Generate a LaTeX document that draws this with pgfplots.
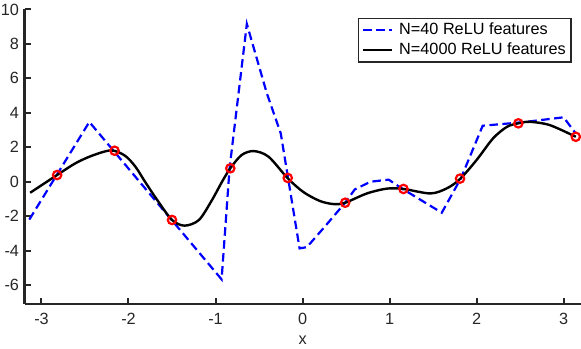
\documentclass[border=0pt]{standalone}
\usepackage{pgfplots}
\pgfplotsset{compat=1.18}
\usepackage{fontspec}
\setmainfont{Liberation Sans}
\definecolor{axgray}{RGB}{38,38,38}
\definecolor{mblue}{RGB}{0,0,255}

\begin{document}
\begin{tikzpicture}
\begin{axis}[
  scale only axis,
  width=556.5bp, height=294.5bp,
  xmin=-3.195, xmax=3.2, ymin=-7.1, ymax=10,
  axis x line*=bottom, axis y line*=left,
  axis line style={axgray, line width=2bp, -},
  xtick={-3,...,3}, ytick={-6,-4,...,10},
  tick align=inside, major tick length=6.5bp,
  tick style={axgray, line width=2bp},
  ticklabel style={font=\fontsize{16.3}{19}\selectfont, text=axgray},
  xticklabel style={yshift=-6bp},
  yticklabel style={xshift=-2bp},
  /pgf/number format/assume math mode=true,
  xlabel={x},
  xlabel style={font=\fontsize{16.3}{19}\selectfont, text=axgray,
    at={(axis description cs:0.5,0)}, anchor=center, yshift=-36.7bp},
  legend style={at={(axis description cs:0.984,0.972)}, anchor=north east,
    draw=axgray, line width=1.6bp, fill=white,
    font=\fontsize{16.3}{19}\selectfont, inner xsep=3.5bp, inner ysep=2bp,
    row sep=0.5bp, cells={anchor=west},
    nodes={inner sep=2bp, text height=12bp, text depth=3.5bp}},
  legend image code/.code={\draw[#1] (0bp,0bp) -- (29bp,0bp); \path (33bp,0bp);},
]
% N=40 fit (piecewise linear)
\addplot[mblue, line width=2.2bp, dash pattern=on 8.5bp off 4.5bp, mark=none] coordinates {
  (-3.14,-2.2) (-2.45,3.47) (-0.93,-5.67) (-0.838,0.8) (-0.64,9.16)
  (-0.41,5.13) (-0.25,2.8) (-0.034,-3.87) (0.05,-3.8) (0.24,-2.7)
  (0.49,-1.22) (0.6,-0.45) (0.78,0.0) (0.99,0.12) (1.15,-0.42)
  (1.6,-1.8) (1.82,0.2) (2.07,3.25) (2.54,3.46) (3.0,3.74) (3.14,2.8)
};
\addlegendentry{N=40 ReLU features}
% N=4000 fit
\addplot[black, line width=2.4bp, smooth, tension=0.5, mark=none] coordinates {
  (-3.13,-0.64) (-2.82,0.39) (-2.61,1.07) (-2.42,1.51) (-2.2,1.82)
  (-2.04,1.51) (-1.92,0.87) (-1.81,0.0) (-1.67,-1.06) (-1.50,-2.22)
  (-1.355,-2.55) (-1.19,-2.22) (-1.04,-1.06) (-0.925,0.0) (-0.83,0.78)
  (-0.70,1.55) (-0.56,1.78) (-0.39,1.45) (-0.17,0.2) (0.01,-0.6)
  (0.2,-1.12) (0.36,-1.3) (0.49,-1.22) (0.74,-0.68) (0.97,-0.4)
  (1.16,-0.42) (1.47,-0.68) (1.66,-0.38) (1.81,0.16) (2.0,1.26)
  (2.19,2.52) (2.35,3.19) (2.48,3.39) (2.61,3.48) (2.84,3.29) (3.14,2.61)
};
\addlegendentry{N=4000 ReLU features}
% data points
\addplot[red, only marks, mark=o, mark size=4.2bp, line width=2.2bp, forget plot] coordinates {
  (-2.82,0.39) (-2.16,1.8) (-1.50,-2.22) (-0.83,0.78) (-0.17,0.22)
  (0.49,-1.22) (1.16,-0.42) (1.81,0.18) (2.48,3.39) (3.14,2.61)
};
\end{axis}
\pgfresetboundingbox
\path[use as bounding box] ([shift={(-24.5bp,-45bp)}]current axis.south west) rectangle ++(581bp,349bp);
\end{tikzpicture}
\end{document}
